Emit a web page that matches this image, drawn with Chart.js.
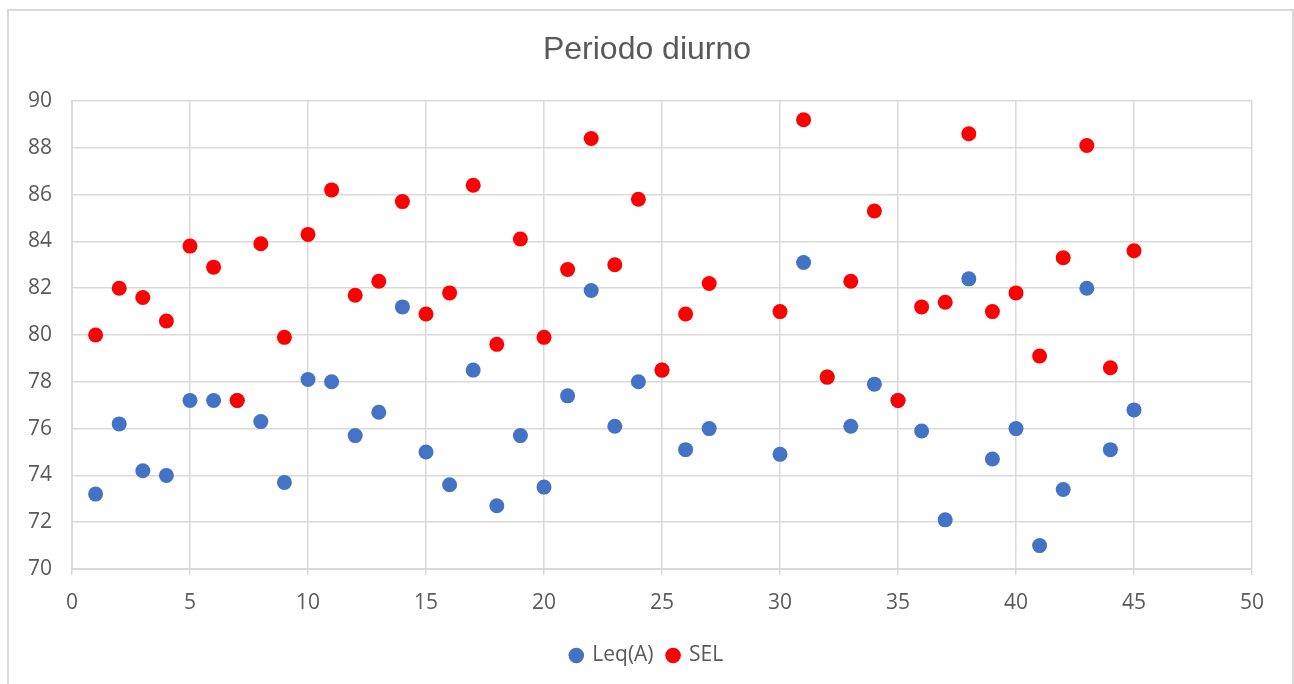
<!DOCTYPE html>
<html>
<head>
<meta charset="utf-8">
<script src="https://cdn.jsdelivr.net/npm/chart.js@4/dist/chart.umd.min.js"></script>
<style>
  html, body { margin: 0; padding: 0; background: #fff; }
  #wrap { width: 1294px; height: 684px; }
</style>
</head>
<body>
<div id="wrap"><canvas id="c" width="1294" height="684"></canvas></div>
<script>
const chartTitle = "Periodo diurno";
const seriesNames = ["Leq(A)", "SEL"];

const leqX = [1,2,3,4,5,6,7,8,9,10,11,12,13,14,15,16,17,18,19,20,21,22,23,24,25,26,27,30,31,32,33,34,35,36,37,38,39,40,41,42,43,44,45];
const leqY = [73.2,76.2,74.2,74.0,77.2,77.2,77.2,76.3,73.7,78.1,78.0,75.7,76.7,81.2,75.0,73.6,78.5,72.7,75.7,73.5,77.4,81.9,76.1,78.0,78.5,75.1,76.0,74.9,83.1,78.2,76.1,77.9,77.2,75.9,72.1,82.4,74.7,76.0,71.0,73.4,82.0,75.1,76.8];

const selX = [1,2,3,4,5,6,7,8,9,10,11,12,13,14,15,16,17,18,19,20,21,22,23,24,25,26,27,30,31,32,33,34,35,36,37,38,39,40,41,42,43,44,45];
const selY = [80.0,82.0,81.6,80.6,83.8,82.9,77.2,83.9,79.9,84.3,86.2,81.7,82.3,85.7,80.9,81.8,86.4,79.6,84.1,79.9,82.8,88.4,83.0,85.8,78.5,80.9,82.2,81.0,89.2,78.2,82.3,85.3,77.2,81.2,81.4,88.6,81.0,81.8,79.1,83.3,88.1,78.6,83.6];

const xMin = 0, xMax = 50, xStep = 5;
const yMin = 70, yMax = 90, yStep = 2;

const toPts = (xs, ys) => xs.map((x, i) => ({ x: x, y: ys[i] }));

const borderPlugin = {
  id: 'outerBorder',
  beforeDraw(chart) {
    const ctx = chart.ctx;
    ctx.save();
    ctx.fillStyle = '#ffffff';
    ctx.fillRect(0, 0, chart.width, chart.height);
    ctx.strokeStyle = '#d9d9d9';
    ctx.lineWidth = 2;
    ctx.beginPath();
    ctx.moveTo(8, 700);
    ctx.lineTo(8, 10);
    ctx.lineTo(1293, 10);
    ctx.lineTo(1293, 700);
    ctx.stroke();
    ctx.restore();
  }
};

const gridColor = '#d9d9d9';
const textColor = '#595959';
const tickFont = { family: "'Open Sans', sans-serif", size: 21 };

new Chart(document.getElementById('c'), {
  type: 'scatter',
  data: {
    datasets: [
      {
        label: seriesNames[0],
        data: toPts(leqX, leqY),
        backgroundColor: '#4472c4',
        borderColor: '#4472c4',
        pointRadius: 7.5,
        pointHoverRadius: 7.5,
        borderWidth: 0,
        order: 2
      },
      {
        label: seriesNames[1],
        data: toPts(selX, selY),
        backgroundColor: '#ff0000',
        borderColor: '#ff0000',
        pointRadius: 7.5,
        pointHoverRadius: 7.5,
        borderWidth: 0,
        order: 1
      }
    ]
  },
  options: {
    responsive: false,
    animation: false,
    devicePixelRatio: 1,
    layout: { padding: { left: 0, right: 0, top: 0, bottom: 8 } },
    plugins: {
      title: {
        display: true,
        text: chartTitle,
        color: textColor,
        font: { family: "'Liberation Sans', Arial, sans-serif", size: 32, weight: 'normal' },
        padding: { top: 31, bottom: 31.6 }
      },
      legend: {
        display: true,
        position: 'bottom',
        labels: {
          usePointStyle: true,
          pointStyle: 'circle',
          boxWidth: 11,
          boxHeight: 11,
          color: textColor,
          padding: 14,
          font: { family: "'Open Sans', sans-serif", size: 21 },
          sort: (a, b) => a.datasetIndex - b.datasetIndex
        }
      },
      tooltip: { enabled: false }
    },
    scales: {
      x: {
        type: 'linear',
        min: xMin, max: xMax,
        ticks: { stepSize: xStep, color: textColor, padding: 15, font: tickFont },
        grid: { color: gridColor, lineWidth: 1.5, tickLength: 6, drawTicks: true, tickColor: gridColor },
        border: { color: gridColor, width: 2 },
        afterFit(scale) { scale.height = 62; }
      },
      y: {
        type: 'linear',
        min: yMin, max: yMax,
        ticks: { stepSize: yStep, color: textColor, padding: 20, font: tickFont },
        grid: { color: gridColor, lineWidth: 1.5, drawTicks: false },
        border: { color: gridColor, width: 2 },
        afterFit(scale) { scale.width = 72; }
      },
      yRightSpacer: {
        type: 'linear',
        position: 'right',
        display: true,
        min: yMin, max: yMax,
        ticks: { display: false },
        grid: { display: false, drawTicks: false },
        border: { display: false },
        afterFit(scale) { scale.width = 42; }
      }
    }
  },
  plugins: [borderPlugin]
});
</script>
</body>
</html>
